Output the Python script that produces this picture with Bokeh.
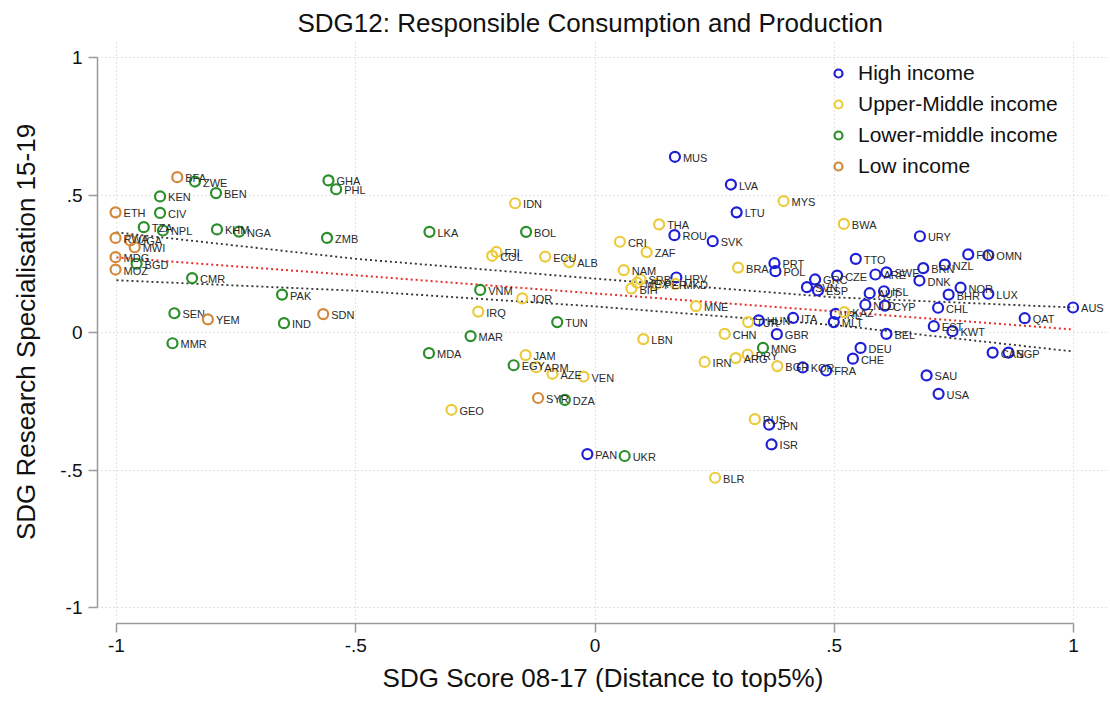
from bokeh.plotting import figure
from bokeh.models import (ColumnDataSource, FixedTicker, Legend, LegendItem, Range1d)
from bokeh.core.properties import value
from bokeh.embed import file_html
from bokeh.resources import INLINE

# ---------------- data ----------------
high_codes = ["MUS", "LVA", "LTU", "ROU", "SVK", "HRV", "PRT", "POL", "HUN", "ITA",
              "GBR", "KOR", "FRA", "PAN", "JPN", "ISR", "TTO", "GRC", "SVN", "ESP",
              "CZE", "ARE", "SWE", "BRN", "DNK", "AUT", "ISL", "NLD", "CYP", "IRL",
              "MLT", "BEL", "EST", "KWT", "CHL", "NOR", "BHR", "LUX", "FIN", "OMN",
              "NZL", "URY", "AUS", "QAT", "CAN", "SGP", "DEU", "CHE", "SAU", "USA"]
high_x = [0.167, 0.284, 0.296, 0.166, 0.246, 0.170, 0.375, 0.377, 0.342, 0.414,
          0.380, 0.434, 0.483, -0.016, 0.364, 0.369, 0.545, 0.460, 0.443, 0.466,
          0.506, 0.586, 0.609, 0.686, 0.678, 0.574, 0.604, 0.565, 0.606, 0.503,
          0.499, 0.609, 0.708, 0.747, 0.717, 0.764, 0.739, 0.822, 0.780, 0.822,
          0.731, 0.679, 0.999, 0.898, 0.831, 0.864, 0.555, 0.539, 0.693, 0.718]
high_y = [0.639, 0.538, 0.437, 0.354, 0.332, 0.200, 0.252, 0.223, 0.044, 0.053,
          -0.006, -0.127, -0.138, -0.442, -0.335, -0.407, 0.268, 0.193, 0.165, 0.153,
          0.207, 0.211, 0.219, 0.234, 0.189, 0.143, 0.150, 0.101, 0.098, 0.068,
          0.038, -0.005, 0.023, 0.005, 0.090, 0.163, 0.138, 0.141, 0.284, 0.281,
          0.247, 0.350, 0.091, 0.052, -0.073, -0.073, -0.056, -0.095, -0.156, -0.223]

upper_codes = ["IDN", "FJI", "COL", "ECU", "ALB", "CRI", "THA", "ZAF", "NAM", "SRB",
               "MEX", "BIH", "PER", "MKD", "MNE", "TUR", "CHN", "BRA", "MYS", "BWA",
               "KAZ", "JOR", "IRQ", "LBN", "JAM", "ARM", "AZE", "VEN", "GEO", "BLR",
               "RUS", "IRN", "ARG", "PRY", "BGR"]
upper_x = [-0.167, -0.206, -0.215, -0.104, -0.054, 0.052, 0.134, 0.108, 0.060, 0.095,
           0.088, 0.076, 0.128, 0.168, 0.211, 0.320, 0.271, 0.299, 0.394, 0.520,
           0.521, -0.152, -0.244, 0.101, -0.145, -0.123, -0.089, -0.024, -0.300, 0.251,
           0.334, 0.229, 0.294, 0.319, 0.381]
upper_y = [0.470, 0.293, 0.279, 0.276, 0.256, 0.330, 0.393, 0.292, 0.227, 0.193,
           0.181, 0.160, 0.176, 0.177, 0.096, 0.038, -0.005, 0.236, 0.478, 0.395,
           0.074, 0.124, 0.076, -0.024, -0.082, -0.126, -0.150, -0.160, -0.281, -0.528,
           -0.315, -0.107, -0.093, -0.080, -0.122]

lower_codes = ["ZWE", "BEN", "KEN", "CIV", "TZA", "NPL", "KHM", "NGA", "GHA", "PHL",
               "ZMB", "BGD", "CMR", "PAK", "SEN", "IND", "MMR", "LKA", "BOL", "VNM",
               "TUN", "MAR", "MDA", "EGY", "DZA", "UKR", "MNG"]
lower_x = [-0.836, -0.792, -0.909, -0.909, -0.943, -0.903, -0.790, -0.744, -0.557, -0.541,
           -0.560, -0.958, -0.842, -0.654, -0.879, -0.650, -0.883, -0.346, -0.144, -0.240,
           -0.079, -0.260, -0.347, -0.170, -0.063, 0.062, 0.351]
lower_y = [0.549, 0.507, 0.495, 0.435, 0.383, 0.371, 0.375, 0.367, 0.553, 0.521,
           0.344, 0.250, 0.198, 0.138, 0.070, 0.034, -0.039, 0.366, 0.366, 0.155,
           0.038, -0.013, -0.075, -0.119, -0.245, -0.449, -0.056]

low_codes = ["BFA", "ETH", "RWA", "UGA", "MWI", "MDG", "MOZ", "YEM", "SDN", "SYR"]
low_x = [-0.873, -1.002, -1.002, -0.971, -0.962, -1.002, -1.002, -0.809, -0.568, -0.119]
low_y = [0.565, 0.437, 0.344, 0.335, 0.310, 0.274, 0.229, 0.048, 0.067, -0.238]

group_names = ["High income", "Upper-Middle income", "Lower-middle income", "Low income"]

# fitted line and confidence bounds
fit_x = [-1.0, -0.5, 0.0, 0.5, 1.0]
fit_y = [0.273, 0.208, 0.142, 0.077, 0.011]
ci_hi = [0.364, 0.268, 0.196, 0.128, 0.091]
ci_lo = [0.190, 0.152, 0.095, 0.027, -0.069]

tick_vals = [-1, -0.5, 0, 0.5, 1]
tick_text = ["-1", "-.5", "0", ".5", "1"]

# ---------------- styles ----------------
colors = ["#1f1fd6", "#ebcb3c", "#2a8f2a", "#d4883a"]
FONT = "Liberation Sans"

p = figure(width=1108, height=696, output_backend="svg", toolbar_location=None,
           x_range=Range1d(-1.0397, 1.0731), y_range=Range1d(-1.058, 1.0618),
           min_border_left=97, min_border_right=0, min_border_top=40, min_border_bottom=73,
           title="SDG12: Responsible Consumption and Production")
p.outline_line_color = None
p.background_fill_color = "white"
p.border_fill_color = "white"

p.title.align = "left"
p.title.offset = 200
p.title.text_font = FONT
p.title.text_font_size = "26px"
p.title.text_font_style = "normal"
p.title.text_color = "#111111"
p.title.standoff = 5

for ax in (p.xaxis[0], p.yaxis[0]):
    ax.ticker = FixedTicker(ticks=tick_vals)
    ax.major_label_overrides = {v: t for v, t in zip(tick_vals, tick_text)}
    ax.bounds = (-1, 1)
    ax.axis_line_color = "#9a9a9a"
    ax.axis_line_width = 1.5
    ax.major_tick_line_color = "#9a9a9a"
    ax.major_tick_line_width = 1.5
    ax.major_tick_out = 9
    ax.major_tick_in = 0
    ax.minor_tick_line_color = None
    ax.major_label_text_font = FONT
    ax.major_label_text_font_size = "19px"
    ax.major_label_text_color = "#111111"
    ax.major_label_standoff = 6
    ax.axis_label_text_font = FONT
    ax.axis_label_text_font_size = "26px"
    ax.axis_label_text_font_style = "normal"
    ax.axis_label_text_color = "#111111"

p.xaxis.axis_label = "SDG Score 08-17 (Distance to top5%)"
p.yaxis.axis_label = "SDG Research Specialisation 15-19"
p.xaxis.axis_label_standoff = 8
p.yaxis.axis_label_standoff = 16

for g in (p.xgrid[0], p.ygrid[0]):
    g.ticker = FixedTicker(ticks=tick_vals)
    g.grid_line_color = "#c8c8c8"
    g.grid_line_dash = "1 3"
    g.grid_line_width = 1
p.ygrid[0].bounds = (-1.0397, 1.0355)

# fit lines
p.line(fit_x, ci_hi, line_color="#333333", line_dash="2 3", line_width=1.8)
p.line(fit_x, ci_lo, line_color="#333333", line_dash="2 3", line_width=1.8)
p.line(fit_x, fit_y, line_color="#e5302a", line_dash="2 3", line_width=2)

groups = [(high_codes, high_x, high_y), (upper_codes, upper_x, upper_y),
          (lower_codes, lower_x, lower_y), (low_codes, low_x, low_y)]

items = []
for (codes, xs, ys), name, col in zip(groups, group_names, colors):
    src = ColumnDataSource(dict(x=xs, y=ys, code=codes))
    r = p.scatter("x", "y", source=src, marker="circle", size=10,
                  fill_color=None, line_color=col, line_width=2.2)
    p.text("x", "y", text="code", source=src, x_offset=8, y_offset=1,
           text_font=value(FONT), text_font_size="11px", text_color="#2a2a2a",
           text_baseline="middle", text_align="left")
    items.append(LegendItem(label=name, renderers=[r]))

legend = Legend(items=items, location=(730, 445), orientation="vertical",
                padding=0, margin=0, spacing=7, glyph_width=22, glyph_height=20,
                label_height=20, label_standoff=9,
                label_text_font=FONT, label_text_font_size="21px",
                label_text_color="#111111",
                border_line_color=None, background_fill_alpha=0)
p.add_layout(legend, "center")

open("out.html", "w").write(file_html(p, INLINE))
